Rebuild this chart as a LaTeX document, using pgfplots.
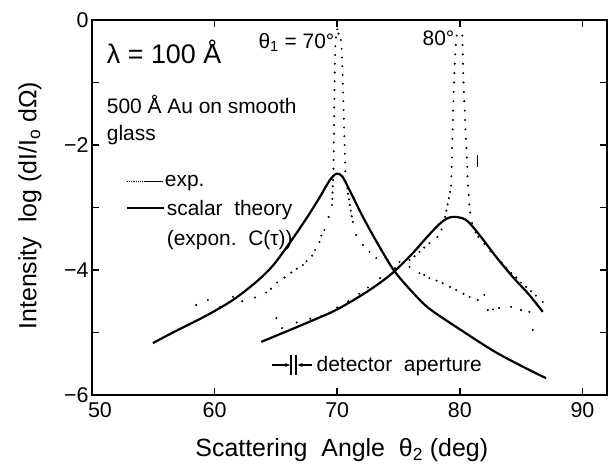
\documentclass[border=0pt]{standalone}
\usepackage{fontspec}
\setmainfont{Liberation Sans}
\usepackage{pgfplots}
\pgfplotsset{compat=1.18}
\usetikzlibrary{arrows.meta}

\begin{document}
\begin{tikzpicture}
\begin{axis}[
  scale only axis, width=515bp, height=375bp,
  at={(0,0)}, anchor=south west,
  xmin=50, xmax=92, ymin=-6, ymax=0,
  xtick={50,60,70,80,90},
  xticklabels={\hspace*{16bp}50,60,70,80,90},
  ytick={-6,-5,-4,-3,-2,-1,0},
  yticklabels={−6,,−4,,−2,,0},
  axis line style={line width=2bp},
  major tick style={line width=1.5bp, black},
  major tick length=7bp,
  tick label style={font=\fontsize{21.5}{24}\selectfont},
  x tick label style={yshift=-4bp},
  /pgf/number format/assume math mode=true,
  clip=false,
]
% scalar theory, theta1 = 70
\addplot[smooth, tension=0.5, line width=2.2bp] coordinates {
(54.97,-5.17) (56.6,-5.0) (59.32,-4.73) (61.49,-4.48) (63.4,-4.19)
(64.75,-3.93) (66.11,-3.57) (67.47,-3.18) (68.56,-2.84) (69.37,-2.57)
(69.92,-2.46) (70.4,-2.5) (71.0,-2.72) (72.09,-3.15) (73.45,-3.63)
(74.67,-4.02) (76.16,-4.36) (77.52,-4.62) (80.24,-4.98) (82.96,-5.32)
(85.67,-5.6) (87.03,-5.73)
};
% scalar theory, theta1 = 80
\addplot[smooth, tension=0.5, line width=2.2bp] coordinates {
(63.8,-5.15) (66.5,-4.93) (69.37,-4.69) (70.73,-4.55) (72.09,-4.39)
(73.45,-4.21) (74.67,-4.02) (76.16,-3.73) (77.52,-3.43) (78.6,-3.22)
(79.42,-3.15) (80.51,-3.2) (81.6,-3.44) (82.96,-3.79) (84.31,-4.11)
(85.67,-4.4) (86.76,-4.67)
};
% experiment, theta1 = 70
\addplot[only marks, mark=*, mark size=0.8bp, black] coordinates {
(70.0,-0.15)
(69.9,-0.28) (69.85,-0.42) (69.83,-0.56) (69.81,-0.7) (69.8,-0.84) (69.79,-0.98)
(69.78,-1.12) (69.77,-1.26) (69.76,-1.4) (69.75,-1.54) (69.74,-1.68) (69.73,-1.82)
(69.72,-1.96) (69.71,-2.1) (69.7,-2.24) (69.69,-2.38)
(69.66,-2.56) (69.64,-2.66) (69.62,-2.76) (69.6,-2.86) (69.58,-2.96)
(69.3,-3.15) (68.95,-3.36) (68.7,-3.45) (68.55,-3.55) (68.2,-3.68) (67.95,-3.77)
(67.5,-3.86) (67.2,-3.92) (66.7,-3.98) (66.25,-4.04) (65.7,-4.12) (65.1,-4.2)
(64.6,-4.3) (64.2,-4.36) (63.3,-4.44) (62.25,-4.5) (61.5,-4.43) (60.45,-4.59)
(59.45,-4.48) (58.5,-4.56)
(70.1,-0.22) (70.3,-0.32) (70.36,-0.46) (70.4,-0.6) (70.42,-0.74) (70.44,-0.88)
(70.46,-1.02) (70.48,-1.16) (70.5,-1.3) (70.52,-1.44) (70.54,-1.58) (70.56,-1.72)
(70.58,-1.86) (70.6,-2.0) (70.62,-2.14) (70.64,-2.28) (70.66,-2.42)
(70.82,-2.69) (70.88,-2.78) (70.95,-2.87) (71.02,-2.96) (71.1,-3.05) (71.18,-3.14) (71.27,-3.23)
(71.55,-3.44) (72.1,-3.6) (72.63,-3.71) (73.18,-3.81) (74.12,-3.84) (75.08,-3.87)
(75.89,-3.95) (76.71,-4.05) (77.1,-4.08) (77.52,-4.13) (78.1,-4.17) (78.6,-4.21)
(79.2,-4.27) (79.7,-4.32) (80.3,-4.38) (80.8,-4.43) (81.46,-4.48) (82.0,-4.4)
(82.28,-4.64) (82.7,-4.63) (83.2,-4.61) (84.18,-4.59) (84.99,-4.64) (85.67,-4.67)
(85.94,-4.96)
};
% experiment, theta1 = 80
\addplot[only marks, mark=*, mark size=0.8bp, black] coordinates {
(80.0,-0.1)
(79.75,-0.25) (79.67,-0.4) (79.62,-0.55) (79.58,-0.7) (79.55,-0.85) (79.52,-1.0)
(79.5,-1.15) (79.47,-1.3) (79.45,-1.45) (79.43,-1.6) (79.41,-1.75) (79.39,-1.9)
(79.37,-2.05) (79.35,-2.2) (79.33,-2.35) (79.31,-2.5)
(79.28,-2.65) (79.2,-2.75) (79.1,-2.85) (79.0,-2.95) (78.9,-3.05) (78.8,-3.15)
(78.5,-3.35) (78.17,-3.47) (77.52,-3.57) (77.1,-3.64) (76.71,-3.71) (76.3,-3.78)
(75.89,-3.84) (75.3,-3.9) (74.7,-3.97) (73.5,-4.13) (72.5,-4.28) (71.8,-4.38)
(70.9,-4.5) (70.0,-4.6) (68.7,-4.74) (67.8,-4.78) (66.7,-4.84) (65.5,-4.93) (65.03,-4.77)
(80.2,-0.25) (80.22,-0.4) (80.24,-0.55) (80.26,-0.7) (80.28,-0.85) (80.3,-1.0)
(80.33,-1.15) (80.36,-1.3) (80.4,-1.45) (80.43,-1.6) (80.46,-1.75) (80.5,-1.9)
(80.53,-2.05) (80.56,-2.2) (80.6,-2.35) (80.63,-2.5) (80.67,-2.65) (80.72,-2.8)
(80.78,-2.95) (80.85,-3.08)
(81.0,-3.25) (81.15,-3.33) (81.3,-3.4) (81.5,-3.47)
(82.0,-3.58) (82.5,-3.7) (83.0,-3.8) (83.4,-3.88) (83.8,-3.97) (84.2,-4.05)
(84.6,-4.12) (85.0,-4.2) (85.4,-4.27) (85.8,-4.34) (86.2,-4.41) (86.76,-4.51)
};
% small vertical mark
\addplot[line width=1.3bp] coordinates {(81.46,-2.16) (81.46,-2.35)};

% axis labels
\node[rotate=90, anchor=center, font=\fontsize{25}{28}\selectfont] at (axis description cs:-0.1204,0.505) {Intensity\ \ log (dI/I\textsubscript{o} dΩ)};
\node[anchor=center, font=\fontsize{25}{28}\selectfont] at (axis description cs:0.485,-0.147) {Scattering\ \ Angle\ \ θ\textsubscript{2} (deg)};

% annotations
\node[anchor=base west, inner sep=0, font=\fontsize{27}{30}\selectfont] at (axis cs:51.2,-0.69) {λ = 100 Å};
\node[anchor=base east, inner sep=0, font=\fontsize{21}{24}\selectfont] at (axis cs:69.78,-0.45) {θ\textsubscript{1} = 70°};
\node[anchor=base east, inner sep=0, font=\fontsize{21}{24}\selectfont] at (axis cs:79.56,-0.4) {80°};
\node[anchor=base west, inner sep=0, font=\fontsize{21}{24}\selectfont] at (axis cs:51.2,-1.49) {500 Å Au on smooth};
\node[anchor=base west, inner sep=0, font=\fontsize{21}{24}\selectfont] at (axis cs:51.2,-1.92) {glass};
% legend
\draw[densely dotted, line width=1.2bp] (axis cs:52.84,-2.59) -- (axis cs:54.4,-2.59);
\draw[line width=1.2bp] (axis cs:54.4,-2.59) -- (axis cs:55.77,-2.59);
\node[anchor=base west, inner sep=0, font=\fontsize{21}{24}\selectfont] at (axis cs:55.93,-2.67) {exp.};
\draw[line width=2bp] (axis cs:52.84,-3.01) -- (axis cs:55.9,-3.01);
\node[anchor=base west, inner sep=0, font=\fontsize{21}{24}\selectfont] at (axis cs:56.09,-3.12) {scalar\ \ theory};
\node[anchor=base west, inner sep=0, font=\fontsize{21}{24}\selectfont] at (axis cs:56.09,-3.6) {(expon.\ \ C(τ))};
% detector aperture
\draw[line width=1.3bp, -{Stealth[length=5bp,width=4bp]}] (axis cs:64.71,-5.52) -- (axis cs:66.15,-5.52);
\draw[line width=1.6bp] (axis cs:66.25,-5.36) -- (axis cs:66.25,-5.68);
\draw[line width=1.6bp] (axis cs:66.66,-5.36) -- (axis cs:66.66,-5.68);
\draw[line width=1.3bp, -{Stealth[length=5bp,width=4bp]}] (axis cs:67.98,-5.52) -- (axis cs:66.76,-5.52);
\node[anchor=base west, inner sep=0, font=\fontsize{21}{24}\selectfont] at (axis cs:68.31,-5.63) {detector\ \ aperture};
\end{axis}
\pgfresetboundingbox
\path (-92bp,-74bp) rectangle (517bp,395bp);
\end{tikzpicture}
\end{document}
